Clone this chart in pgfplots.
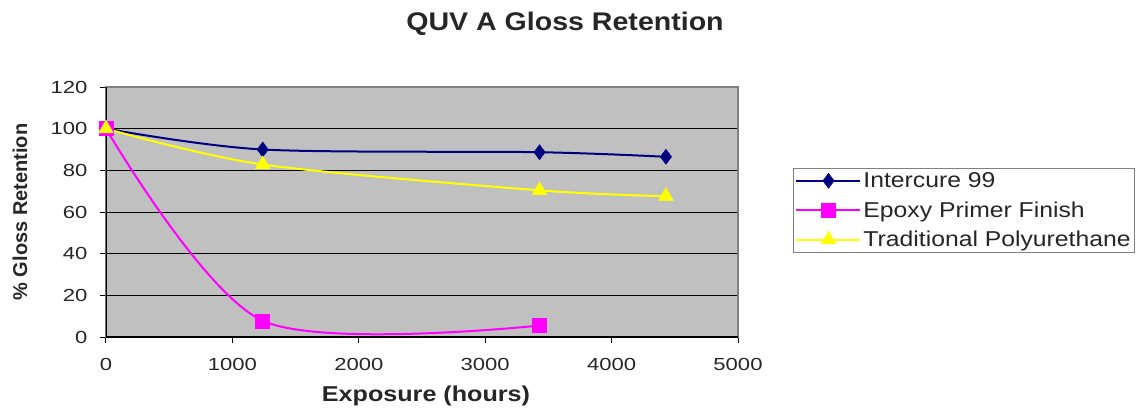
\documentclass[border=0pt]{standalone}
\usepackage{graphicx}
\usepackage{pgfplots}
\pgfplotsset{compat=1.18}
\usepackage{fontspec}
\setmainfont{Liberation Sans}
\definecolor{bggray}{RGB}{192,192,192}
\definecolor{bordergray}{RGB}{128,128,128}
\definecolor{navyc}{RGB}{0,0,128}
\definecolor{magc}{RGB}{255,0,255}
\definecolor{yelc}{RGB}{255,255,0}
\newcommand\hs[2][1.2]{\scalebox{#1}[1]{#2}}
\begin{document}
\begin{tikzpicture}
\begin{axis}[
  name=ax,
  width=632pt, height=250pt, scale only axis,
  xmin=0, xmax=5000, ymin=0, ymax=120,
  xtick={0,1000,...,5000}, ytick={0,20,...,120},
  /pgf/number format/assume math mode=true,
  /pgf/number format/1000 sep={},
  xticklabel={\hs[1.26]{\pgfmathprintnumber{\tick}}},
  yticklabel={\hs[1.26]{\pgfmathprintnumber{\tick}}},
  tick label style={font=\fontsize{17.5}{20}\selectfont, text=black!85},
  xticklabel style={yshift=-12pt},
  yticklabel style={xshift=-9pt},
  tick align=outside, major tick length=6pt,
  tick style={black, line width=1pt},
  xtick pos=bottom, ytick pos=left,
  axis background/.style={fill=bggray},
  axis line style={bordergray, line width=1.2pt},
  ymajorgrids, grid style={black, line width=1pt},
  legend style={at={(1.087,0.676)}, anchor=north west, draw=bordergray, line width=1pt,
    font=\fontsize{21.5}{25}\selectfont, text=black!85, inner sep=2pt, row sep=8.5pt,
    cells={anchor=west}},
  legend image code/.code={\draw[mark repeat=2,mark phase=2] plot coordinates {(0pt,0pt)(32pt,0pt)(64pt,0pt)};},
]
\pgfplotsextra{\draw[black, line width=1.2pt] (axis cs:0,120) -- (axis cs:0,0) -- (axis cs:5000,0);}
\addplot[navyc, line width=2pt, smooth, mark=diamond*, mark size=7.5pt, mark options={solid, fill=navyc, draw=navyc, line width=0.5pt}]
  coordinates {(0,100) (1240,90) (3430,88.7) (4430,86.5)};
\addlegendentry{\hs[1.15]{Intercure 99}}
\addplot[magc, line width=2pt, smooth, mark=square*, mark size=7pt, mark options={solid, fill=magc, draw=magc, line width=0.5pt}]
  coordinates {(0,100) (1240,7.8) (3430,5.5)};
\addlegendentry{\hs[1.15]{Epoxy Primer Finish}}
\addplot[yelc, line width=2pt, smooth, mark=triangle*, mark size=8.5pt, mark options={solid, fill=yelc, draw=yelc, line width=0.5pt}]
  coordinates {(0,100) (1240,82.8) (3430,70.4) (4430,67.6)};
\addlegendentry{\hs[1.15]{Traditional Polyurethane}}
\end{axis}
\coordinate (O) at (ax.south west);
\node[font=\bfseries\fontsize{25.5}{30}\selectfont, text=black!85] at ([shift={(459pt,313pt)}]O) {\hs[1.12]{QUV A Gloss Retention}};
\node[font=\bfseries\fontsize{21.5}{26}\selectfont, text=black!85] at ([shift={(320pt,-59pt)}]O) {\hs[1.17]{Exposure (hours)}};
\node[font=\bfseries\fontsize{20}{24}\selectfont, text=black!85, rotate=90] at ([shift={(-86pt,125pt)}]O) {\% Gloss Retention};
\pgfresetboundingbox
\useasboundingbox ([shift={(-106pt,-71pt)}]O) rectangle ([shift={(1034pt,337pt)}]O);
\end{tikzpicture}
\end{document}
